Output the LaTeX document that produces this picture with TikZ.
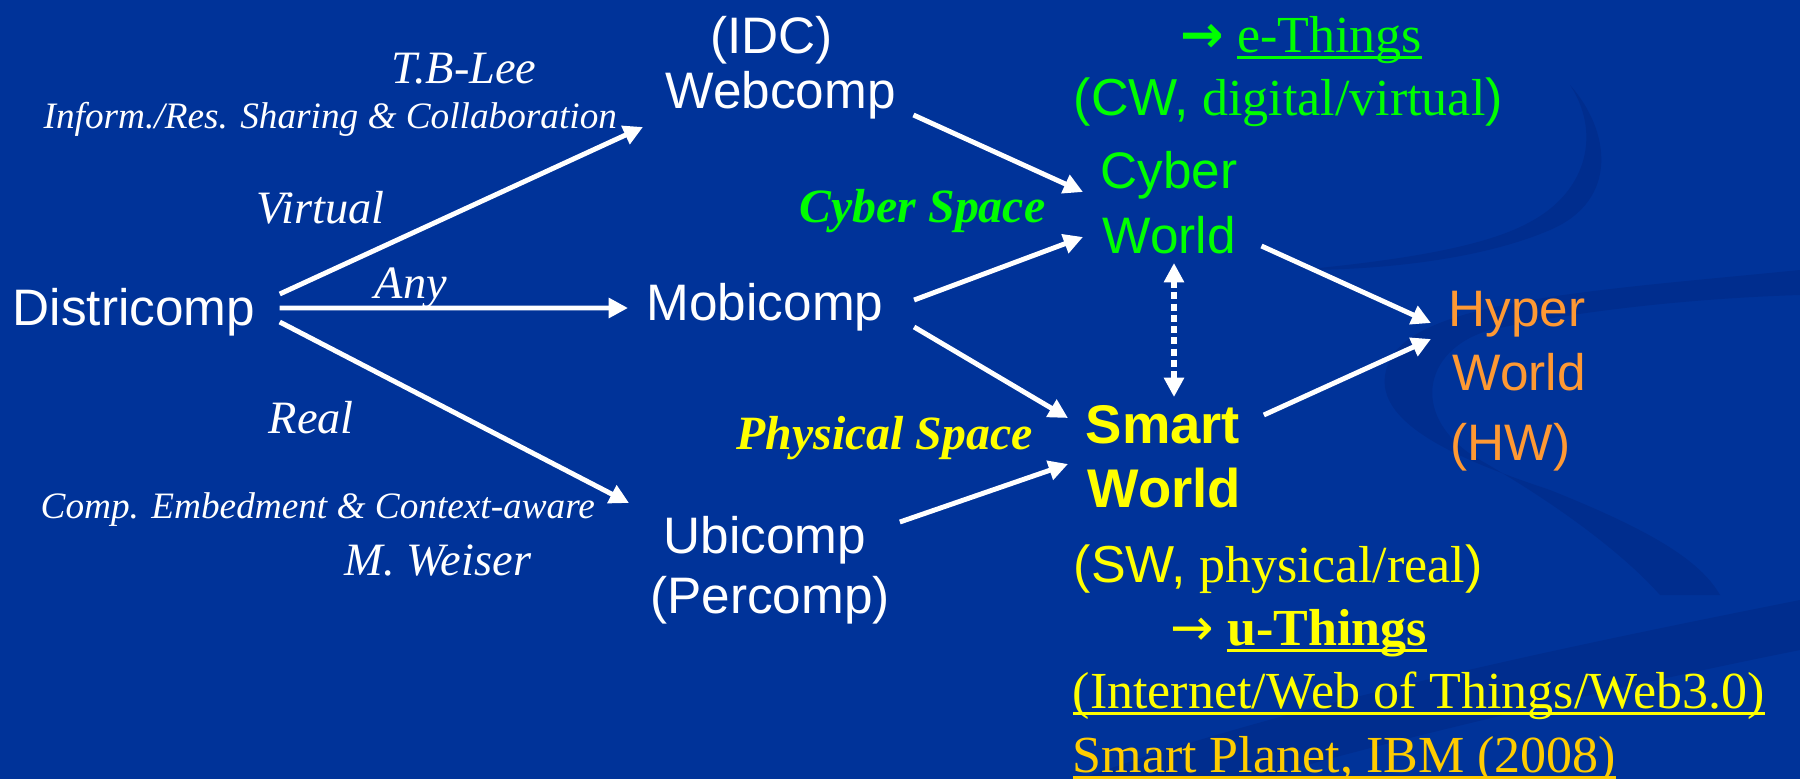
\documentclass[tikz,border=0pt]{standalone}
\usepackage{fontspec}
\setmainfont{Liberation Serif}
\setsansfont{Liberation Sans}
\newfontfamily\arrowfont{DejaVu Sans}
\usetikzlibrary{arrows.meta}

\definecolor{slideblue}{RGB}{0,51,153}
\definecolor{swirlblue}{RGB}{0,45,142}
\definecolor{cwgreen}{RGB}{0,255,0}
\definecolor{swyellow}{RGB}{255,255,0}
\definecolor{hworange}{RGB}{255,153,51}
\definecolor{ibmgold}{RGB}{255,204,0}

% underline at a fixed depth
\newsavebox{\ulbox}
\newcommand{\ulin}[1]{\sbox{\ulbox}{#1}\rlap{\usebox{\ulbox}}\raisebox{-2.1pt}{\rule{\wd\ulbox}{0.9pt}}}

\tikzset{
  every node/.style={inner sep=0pt, anchor=base west},
  big/.style={font=\sffamily\fontsize{14.6}{17}\selectfont},
  bigbold/.style={font=\sffamily\bfseries\fontsize{15.5}{18}\selectfont},
  serif/.style={font=\fontsize{14.8}{17}\selectfont},
  lbl/.style={font=\itshape\fontsize{13.2}{15}\selectfont, white},
  smalllbl/.style={font=\itshape\fontsize{10.6}{12}\selectfont, white},
  spacelbl/.style={font=\bfseries\itshape\fontsize{13.6}{15}\selectfont},
  arr/.style={white, line width=1.4pt, -{Triangle[length=5.5pt,width=5.5pt]}},
  dotarr/.style={white, line width=1.5pt, dash pattern=on 2pt off 1.2pt,
    {Triangle[length=5.5pt,width=5.5pt]}-{Triangle[length=5.5pt,width=5.5pt]}},
}

\begin{document}
\begin{tikzpicture}
  % slide background with its faint swirl
  \fill[slideblue] (0,0) rectangle (18,-7.79);
  \useasboundingbox (0,0) rectangle (18,-7.79);
  \fill[swirlblue] (15.70,-0.85) .. controls (16.1,-1.3) and (16.2,-2.0) .. (15.5,-2.3)
    .. controls (14.8,-2.6) and (13.8,-2.7) .. (13.0,-2.70)
    .. controls (13.8,-2.62) and (14.8,-2.5) .. (15.3,-2.22)
    .. controls (15.9,-1.9) and (16.0,-1.3) .. (15.70,-0.85);
  \fill[swirlblue] (18,-2.70) .. controls (16,-2.9) and (14.2,-3.0) .. (13.9,-3.6)
    .. controls (13.6,-4.2) and (14.6,-4.6) .. (15.5,-4.9)
    .. controls (16.5,-5.3) and (17,-5.6) .. (17.2,-5.95)
    -- (16.6,-5.95) .. controls (16.2,-5.5) and (15.5,-5.0) .. (14.8,-4.6)
    .. controls (14.1,-4.2) and (14.2,-3.5) .. (14.9,-3.3)
    .. controls (15.8,-3.1) and (17,-2.98) .. (18,-2.95) -- cycle;
  \fill[swirlblue] (10.8,-7.79) .. controls (13,-7.0) and (16,-6.4) .. (18,-6.0)
    -- (18,-6.5) .. controls (16,-6.9) and (13.5,-7.5) .. (12.6,-7.79) -- cycle;

  % computing paradigms
  \node[big, white] (dist) at (0.12,-3.25) {Districomp};
  \node[big, white] (idc) at (7.095,-0.53) {(IDC)};
  \node[big, white] (webc) at (6.65,-1.08) {Webcomp};
  \node[big, white] (mobi) at (6.46,-3.20) {Mobicomp};
  \node[big, white] (ubi) at (6.63,-5.53) {Ubicomp};
  \node[big, white] (perc) at (6.495,-6.13) {(Percomp)};

  % worlds
  \node[big, cwgreen] (cyb) at (11.00,-1.88) {Cyber};
  \node[big, cwgreen] (cwld) at (11.02,-2.53) {World};
  \node[bigbold, swyellow] (smrt) at (10.85,-4.43) {Smart};
  \node[bigbold, swyellow] (swld) at (10.87,-5.07) {World};
  \node[big, hworange] (hyp) at (14.48,-3.26) {Hyper};
  \node[big, hworange] (hwld) at (14.52,-3.90) {World};
  \node[big, hworange] (hw) at (14.50,-4.60) {(HW)};

  \node[serif, cwgreen] (eth) at (11.80,-0.52) {{\arrowfont\bfseries →} \ulin{e-Things}};
  \node[serif, cwgreen] (cwtxt) at (10.73,-1.15) {\textsf{(CW,} digital/virtual\textsf{)}};
  \node[serif, swyellow] (swtxt) at (10.73,-5.82) {\textsf{(SW,} physical/real\textsf{)}};
  \node[serif, swyellow] (uth) at (11.70,-6.45) {{\arrowfont →} \textbf{\ulin{u-Things}}};
  \node[serif, swyellow] (iot) at (10.72,-7.08) {\ulin{(Internet/Web of Things/Web3.0)}};
  \node[serif, ibmgold] (ibm) at (10.72,-7.72) {\ulin{Smart Planet, IBM (2008)}};

  % labels on the left
  \node[lbl] (tbl) at (3.91,-0.83) {T.B-Lee};
  \node[smalllbl] (isc) at (0.43,-1.28) {Inform./Res. Sharing \& Collaboration};
  \node[lbl] (virt) at (2.56,-2.23) {Virtual};
  \node[lbl] (any) at (3.74,-2.98) {Any};
  \node[lbl] (real) at (2.68,-4.33) {Real};
  \node[smalllbl] (ceca) at (0.40,-5.18) {Comp. Embedment \& Context-aware};
  \node[lbl] (mw) at (3.44,-5.75) {M. Weiser};
  \node[spacelbl, cwgreen] (cspace) at (7.99,-2.22) {Cyber Space};
  \node[spacelbl, swyellow] (pspace) at (7.36,-4.49) {Physical Space};

  % arrows
  \draw[arr] ([shift={(0.24,0.31)}]dist.base east) -- ([shift={(-0.22,-0.19)}]webc.base west);
  \draw[arr] ([shift={(0.24,0.17)}]dist.base east) -- ([shift={(-0.18,0.12)}]mobi.base west);
  \draw[arr] ([shift={(0.24,0.03)}]dist.base east) -- ([shift={(-0.34,0.50)}]ubi.base west);
  \draw[arr] ([shift={(0.17,-0.07)}]webc.base east) -- ([shift={(-0.17,-0.04)}]cyb.base west);
  \draw[arr] ([shift={(0.30,0.20)}]mobi.base east) -- ([shift={(-0.19,0.16)}]cwld.base west);
  \draw[arr] ([shift={(0.30,-0.07)}]mobi.base east) -- ([shift={(-0.17,0.25)}]smrt.base west);
  \draw[arr] ([shift={(0.33,0.31)}]ubi.base east) -- ([shift={(-0.19,0.43)}]swld.base west);
  \draw[arr] ([shift={(0.25,0.07)}]cwld.base east) -- ([shift={(-0.17,0.03)}]hyp.base west);
  \draw[arr] ([shift={(0.23,0.28)}]smrt.base east) -- ([shift={(-0.21,0.51)}]hwld.base west);
  \draw[dotarr] ([shift={(0.72,-0.10)}]cwld.base west) -- ([shift={(0.89,0.46)}]smrt.base west);
\end{tikzpicture}
\end{document}
